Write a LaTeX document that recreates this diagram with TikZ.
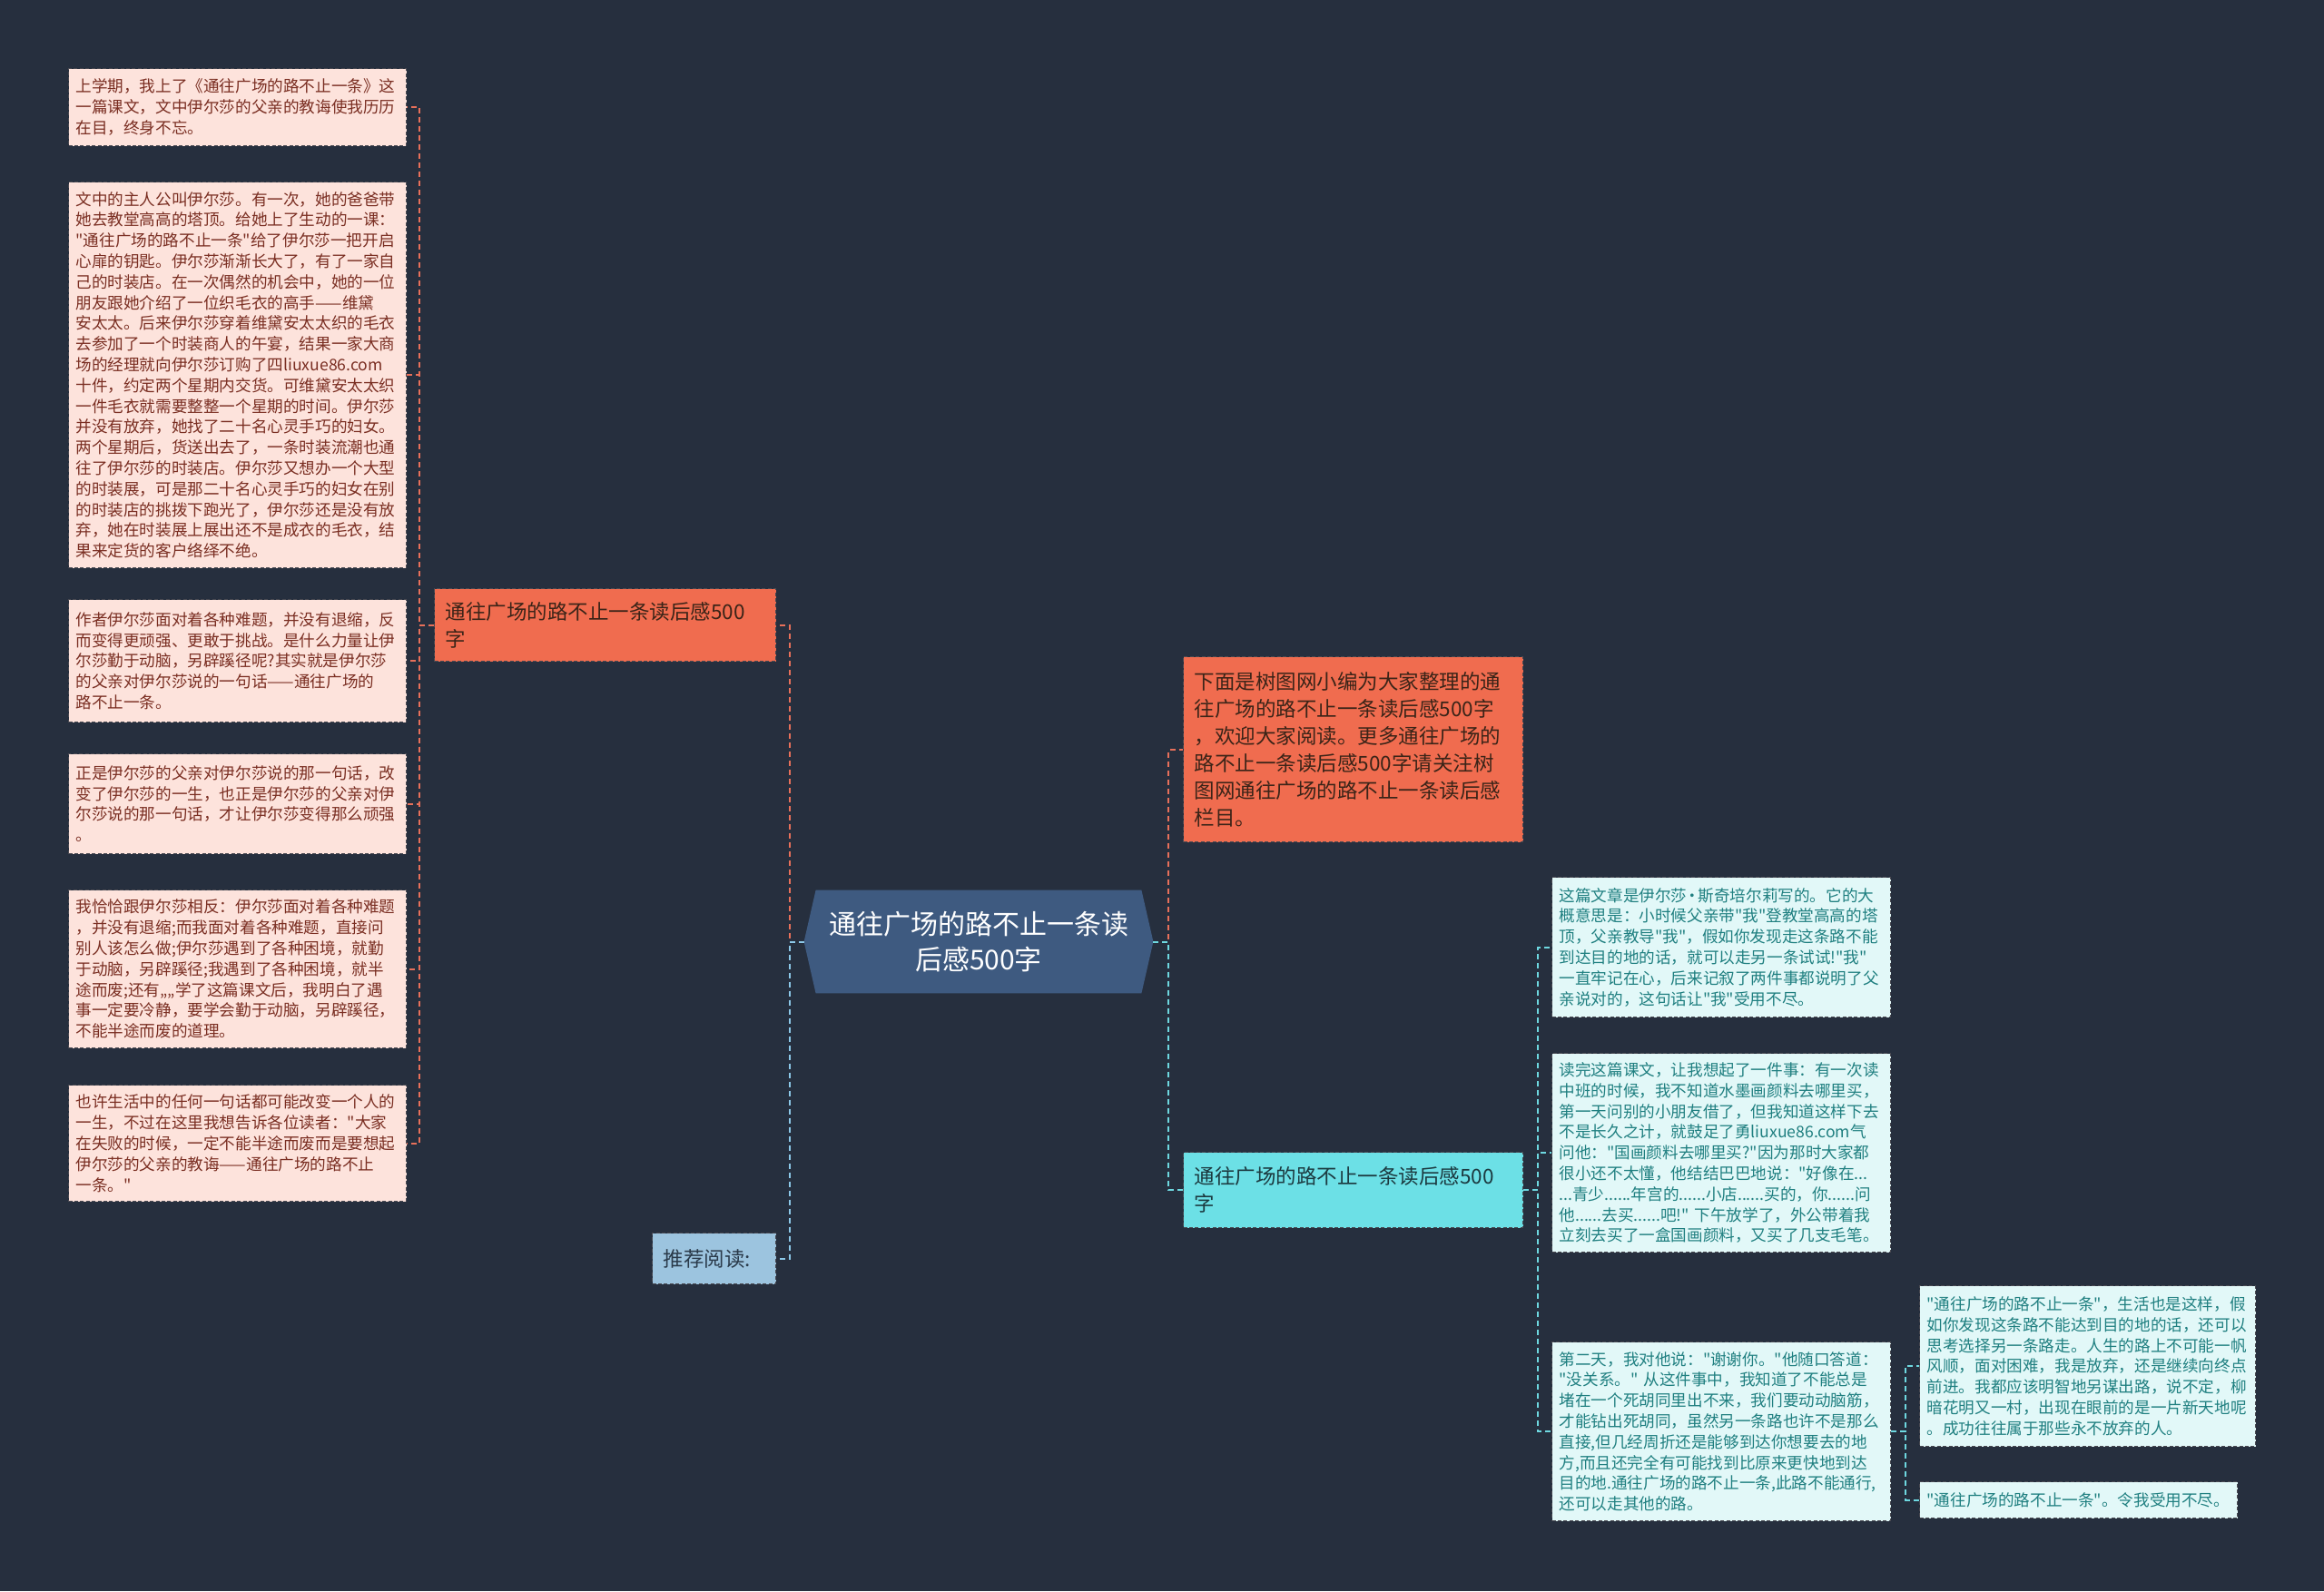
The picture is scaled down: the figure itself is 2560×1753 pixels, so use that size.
\documentclass[tikz,border=0pt]{standalone}
\usepackage{fontspec}
\setmainfont{Noto Sans CJK SC}[Ligatures=TeXOff]
\usetikzlibrary{calc}
\pgfdeclarelayer{bg}
\pgfsetlayers{bg,main}
\definecolor{bgc}{HTML}{262F3E}
\definecolor{pinkfill}{HTML}{FDE3DC}
\definecolor{pinktext}{HTML}{7A2E22}
\definecolor{cyanfill}{HTML}{E2F8F8}
\definecolor{cyantext}{HTML}{1F7F80}
\definecolor{boxline}{HTML}{4A4A52}
\definecolor{orangefill}{HTML}{F06C4F}
\definecolor{orangetext}{HTML}{3B2418}
\definecolor{tealfill}{HTML}{6CE0E6}
\definecolor{tealtext}{HTML}{1C3A40}
\definecolor{recfill}{HTML}{9CC4DF}
\definecolor{rectext}{HTML}{2A3A4A}
\definecolor{centerfill}{HTML}{3E5A80}
\definecolor{connorange}{HTML}{E8705A}
\definecolor{conncyan}{HTML}{6ED8E0}
\definecolor{connblue}{HTML}{8CC8E8}
\begin{document}
\begin{tikzpicture}[x=0.5pt,y=-0.5pt,
  smallbox/.style={draw=boxline, dash pattern=on 2pt off 1.2pt, line width=0.6pt,
    anchor=north west, align=left, inner xsep=4pt, inner ysep=3pt,
    text width=178pt, font=\fontsize{8.8pt}{11.4pt}\selectfont},
  pinkbox/.style={smallbox, fill=pinkfill, text=pinktext},
  cyanbox/.style={smallbox, fill=cyanfill, text=cyantext},
  bigbox/.style={draw=boxline, dash pattern=on 2pt off 1.2pt, line width=0.6pt,
    anchor=north west, align=left, inner xsep=6pt, inner ysep=3pt,
    text width=176pt, font=\fontsize{11.25pt}{15pt}\selectfont},
  orangebox/.style={bigbox, fill=orangefill, text=orangetext},
  tealbox/.style={bigbox, fill=tealfill, text=tealtext},
  conn/.style={line width=1pt, dash pattern=on 3pt off 2pt},
  orangeconn/.style={conn, draw=connorange},
  cyanconn/.style={conn, draw=conncyan},
  blueconn/.style={conn, draw=connblue}
]
\begin{pgfonlayer}{bg}
\fill[bgc] (0,0) rectangle (2560,1753);
\end{pgfonlayer}
\useasboundingbox (0,0) rectangle (2560,1753);

% center
\node[inner sep=0, minimum width=192pt, minimum height=56.5pt, align=center,
  text=white, font=\fontsize{15pt}{19.5pt}\selectfont] (center) at (1078,1037.5)
  {通往广场的路不止一条读\\后感500字};
\begin{pgfonlayer}{bg}
\fill[centerfill] ([xshift=6.5pt]center.north west) -- ([xshift=-6.5pt]center.north east)
  -- (center.east) -- ([xshift=-6.5pt]center.south east)
  -- ([xshift=6.5pt]center.south west) -- (center.west) -- cycle;
\end{pgfonlayer}

% left branch
\node[orangebox, minimum height=40pt] (LO) at (478,648) {通往广场的路不止一条读后感500\\字};
\node[bigbox, fill=recfill, text=rectext, text width=56pt, minimum height=28pt] (REC) at (718,1358) {推荐阅读:};

\node[pinkbox, minimum height=42.5pt] (L1) at (75,75) {上学期，我上了《通往广场的路不止一条》这\\一篇课文，文中伊尔莎的父亲的教诲使我历历\\在目，终身不忘。};
\node[pinkbox, minimum height=212.5pt] (L2) at (75,200) {文中的主人公叫伊尔莎。有一次，她的爸爸带\\她去教堂高高的塔顶。给她上了生动的一课：\\"通往广场的路不止一条"给了伊尔莎一把开启\\心扉的钥匙。伊尔莎渐渐长大了，有了一家自\\己的时装店。在一次偶然的机会中，她的一位\\朋友跟她介绍了一位织毛衣的高手——维黛\\安太太。后来伊尔莎穿着维黛安太太织的毛衣\\去参加了一个时装商人的午宴，结果一家大商\\场的经理就向伊尔莎订购了四liuxue86.com\\十件，约定两个星期内交货。可维黛安太太织\\一件毛衣就需要整整一个星期的时间。伊尔莎\\并没有放弃，她找了二十名心灵手巧的妇女。\\两个星期后，货送出去了，一条时装流潮也通\\往了伊尔莎的时装店。伊尔莎又想办一个大型\\的时装展，可是那二十名心灵手巧的妇女在别\\的时装店的挑拨下跑光了，伊尔莎还是没有放\\弃，她在时装展上展出还不是成衣的毛衣，结\\果来定货的客户络绎不绝。};
\node[pinkbox, minimum height=67.5pt] (L3) at (75,660) {作者伊尔莎面对着各种难题，并没有退缩，反\\而变得更顽强、更敢于挑战。是什么力量让伊\\尔莎勤于动脑，另辟蹊径呢?其实就是伊尔莎\\的父亲对伊尔莎说的一句话——通往广场的\\路不止一条。};
\node[pinkbox, minimum height=55pt] (L4) at (75,830) {正是伊尔莎的父亲对伊尔莎说的那一句话，改\\变了伊尔莎的一生，也正是伊尔莎的父亲对伊\\尔莎说的那一句话，才让伊尔莎变得那么顽强\\。};
\node[pinkbox, minimum height=87pt] (L5) at (75,980) {我恰恰跟伊尔莎相反：伊尔莎面对着各种难题\\，并没有退缩;而我面对着各种难题，直接问\\别人该怎么做;伊尔莎遇到了各种困境，就勤\\于动脑，另辟蹊径;我遇到了各种困境，就半\\途而废;还有„„学了这篇课文后，我明白了遇\\事一定要冷静，要学会勤于动脑，另辟蹊径，\\不能半途而废的道理。};
\node[pinkbox, minimum height=64pt] (L6) at (75,1195) {也许生活中的任何一句话都可能改变一个人的\\一生，不过在这里我想告诉各位读者："大家\\在失败的时候，一定不能半途而废而是要想起\\伊尔莎的父亲的教诲——通往广场的路不止\\一条。"};

% right branch
\node[orangebox, text width=175pt, minimum height=102pt] (RO) at (1303,723) {下面是树图网小编为大家整理的通\\往广场的路不止一条读后感500字\\，欢迎大家阅读。更多通往广场的\\路不止一条读后感500字请关注树\\图网通往广场的路不止一条读后感\\栏目。};
\node[tealbox, text width=175pt, minimum height=41.5pt] (RC) at (1303,1269) {通往广场的路不止一条读后感500\\字};

\node[cyanbox, text width=178.5pt, minimum height=77pt] (A) at (1709,966) {这篇文章是伊尔莎\kern-0.15em·\kern-0.15em斯奇培尔莉写的。它的大\\概意思是：小时候父亲带"我"登教堂高高的塔\\顶，父亲教导"我"，假如你发现走这条路不能\\到达目的地的话，就可以走另一条试试!"我"\\一直牢记在心，后来记叙了两件事都说明了父\\亲说对的，这句话让"我"受用不尽。};
\node[cyanbox, text width=178.5pt, minimum height=109.5pt] (B) at (1709,1160) {读完这篇课文，让我想起了一件事：有一次读\\中班的时候，我不知道水墨画颜料去哪里买，\\第一天问别的小朋友借了，但我知道这样下去\\不是长久之计，就鼓足了勇liuxue86.com气\\问他："国画颜料去哪里买?"因为那时大家都\\很小还不太懂，他结结巴巴地说："好像在...\\...青少......年宫的......小店......买的，你......问\\他......去买......吧!"~下午放学了，外公带着我\\立刻去买了一盒国画颜料，又买了几支毛笔。};
\node[cyanbox, text width=178.5pt, minimum height=98.5pt] (C) at (1709,1478) {第二天，我对他说："谢谢你。"他随口答道：\\"没关系。"~从这件事中，我知道了不能总是\\堵在一个死胡同里出不来，我们要动动脑筋，\\才能钻出死胡同，虽然另一条路也许不是那么\\直接,但几经周折还是能够到达你想要去的地\\方,而且还完全有可能找到比原来更快地到达\\目的地.通往广场的路不止一条,此路不能通行,\\还可以走其他的路。};
\node[cyanbox, text width=177pt, minimum height=88.5pt] (D) at (2114,1416) {"通往广场的路不止一条"，生活也是这样，假\\如你发现这条路不能达到目的地的话，还可以\\思考选择另一条路走。人生的路上不可能一帆\\风顺，面对困难，我是放弃，还是继续向终点\\前进。我都应该明智地另谋出路，说不定，柳\\暗花明又一村，出现在眼前的是一片新天地呢\\。成功往往属于那些永不放弃的人。};
\node[cyanbox, text width=167pt, minimum height=20pt] (E) at (2114,1632) {"通往广场的路不止一条"。令我受用不尽。};

% connectors
\draw[orangeconn] (center.west) -- ++(-16,0) |- (LO.east);
\draw[blueconn] (center.west) -- ++(-16,0) |- (REC.east);
\foreach \n in {L1,L2,L3,L4,L5,L6}
  \draw[orangeconn] (LO.west) -- ++(-16,0) |- (\n.east);
\draw[orangeconn] (center.east) -- ++(17,0) |- (RO.west);
\draw[cyanconn] (center.east) -- ++(17,0) |- (RC.west);
\foreach \n in {A,B,C}
  \draw[cyanconn] (RC.east) -- ++(16,0) |- (\n.west);
\foreach \n in {D,E}
  \draw[cyanconn] (C.east) -- ++(16,0) |- (\n.west);
\end{tikzpicture}
\end{document}
